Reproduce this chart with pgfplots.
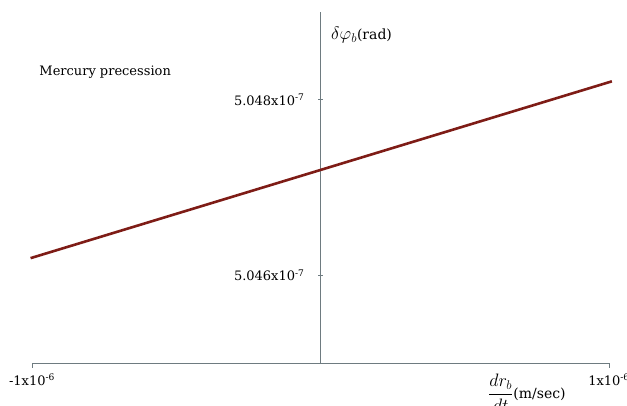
\RequirePackage{fix-cm}
\documentclass[border=0pt]{standalone}
\usepackage{amsmath}
\usepackage{fontspec}
\setmainfont{DejaVu Serif}
\usepackage{pgfplots}
\pgfplotsset{compat=1.18}
\definecolor{axisgray}{HTML}{6E7B80}
\definecolor{linered}{HTML}{7E1C16}
\begin{document}
\fontsize{13pt}{15pt}\selectfont
\begin{tikzpicture}
% y in units of 1e-11 rad above 5e-7, x in units of 1e-6 m/sec
\begin{axis}[
    scale only axis,
    width=577pt, height=351pt,
    xmin=-1, xmax=1,
    ymin=450, ymax=490,
    axis x line=bottom,
    axis y line=center,
    axis line style={draw=axisgray, line width=0.9pt, -},
    xtick={-1,1},
    xticklabels={-1x10\textsuperscript{-6}, 1x10\textsuperscript{-6}},
    ytick={460,480},
    yticklabels={5.046x10\textsuperscript{-7}, 5.048x10\textsuperscript{-7}},
    tick style={draw=axisgray, line width=0.9pt},
    x tick style={yshift=-2.5pt},
    major tick length=5pt,
    yticklabel style={anchor=east, xshift=-9pt},
    xticklabel style={yshift=-4pt},
    xlabel={{\fontsize{18pt}{20pt}\selectfont$\displaystyle\frac{dr_b}{dt}$}{\fontsize{14pt}{16pt}\selectfont(m/sec)}},
    xlabel style={at={(axis cs:0.577,446.6)}, anchor=west, inner sep=1pt},
    ylabel={{\fontsize{18pt}{20pt}\selectfont$\delta\varphi_b$}{\fontsize{14pt}{16pt}\selectfont(rad)}},
    ylabel style={at={(axis cs:0.033,487.4)}, anchor=west, rotate=0, inner sep=1pt},
    clip=false,
]
\addplot[color=linered, line width=2.6pt] coordinates {
    (-1.005,461.95) (1.01,482.1)
};
\node[anchor=west] at (axis cs:-0.99,483.2) {Mercury precession};
\coordinate (bl) at (axis cs:-1.111,445.21);
\coordinate (tr) at (axis cs:1.0624,491.37);
\end{axis}
\pgfresetboundingbox
\useasboundingbox (bl) rectangle (tr);
\end{tikzpicture}
\end{document}
